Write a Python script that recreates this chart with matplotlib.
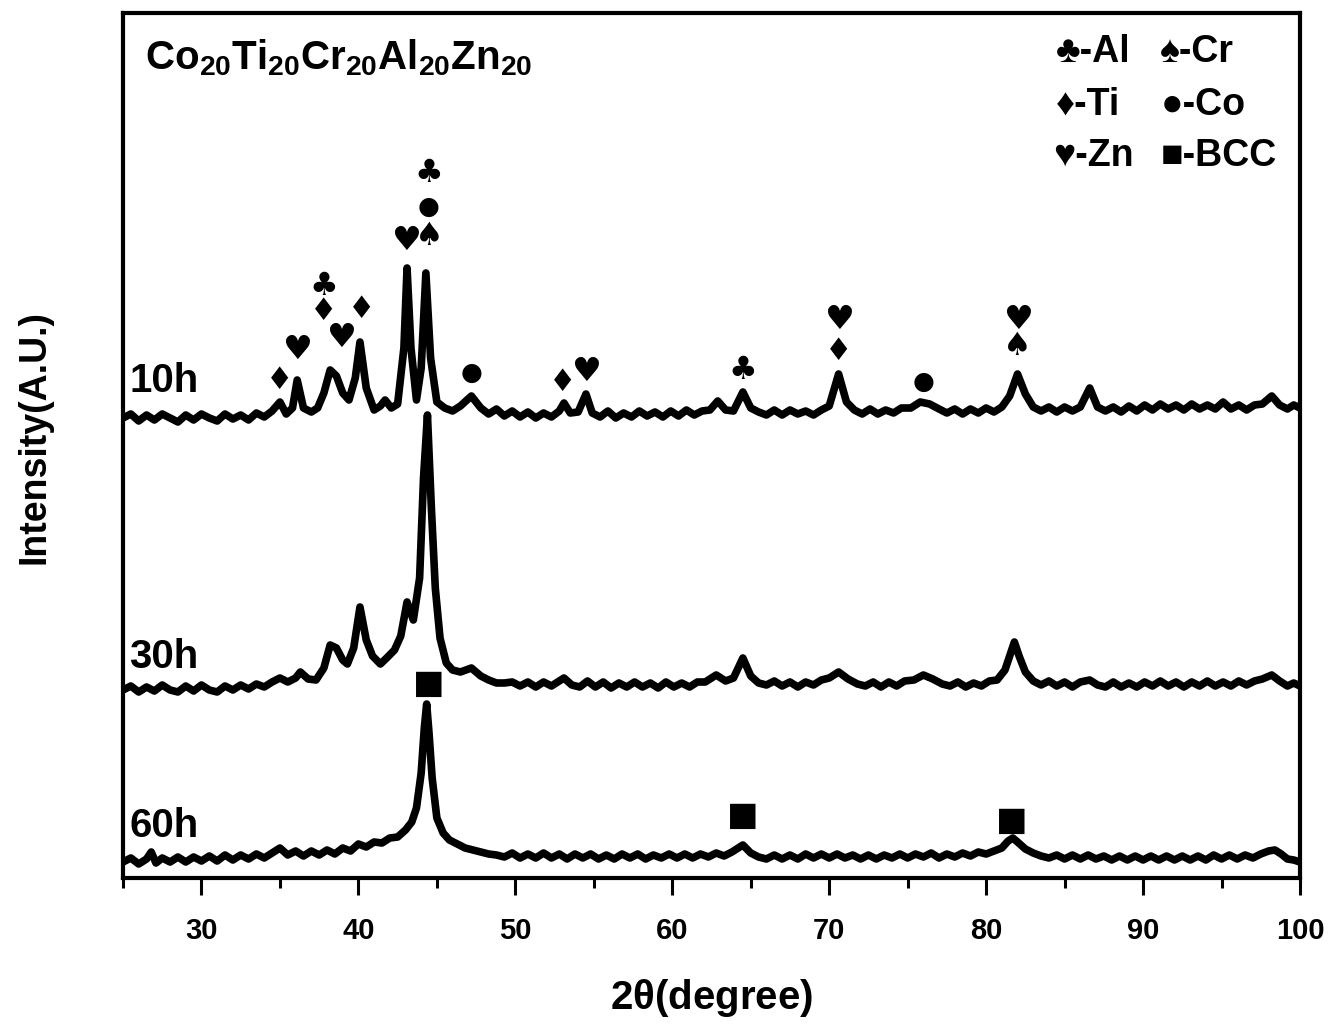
import matplotlib
matplotlib.use('Agg')
import matplotlib.pyplot as plt
from matplotlib.ticker import MultipleLocator

plt.rcParams['font.family'] = ['Liberation Sans', 'DejaVu Sans']
plt.rcParams['font.weight'] = 'bold'
plt.rcParams['mathtext.fontset'] = 'custom'
plt.rcParams['mathtext.bf'] = 'Liberation Sans:bold'
plt.rcParams['mathtext.rm'] = 'Liberation Sans:bold'
plt.rcParams['mathtext.default'] = 'bf'

# 10h pattern
tt_10h = [25, 25.5, 26, 26.5, 27, 27.5, 28, 28.5, 29, 29.5, 30, 30.5, 31, 31.5, 32, 32.5, 33, 33.5, 34, 34.5,
          35.0, 35.4, 35.8, 36.1, 36.5, 37.0, 37.4, 37.8, 38.2, 38.6, 39.0, 39.4, 39.8, 40.1, 40.5, 41.0,
          41.4, 41.7, 42.1, 42.5, 42.9, 43.1, 43.35, 43.7, 44.0, 44.3, 44.6, 45.0, 45.5, 46.0, 46.5, 47.2,
          47.8, 48.3, 48.8, 49.3, 49.8, 50.3, 50.8, 51.3, 51.8, 52.3, 52.8, 53.1, 53.5, 54.0, 54.5, 54.9,
          55.4, 55.9, 56.4, 56.9, 57.4, 57.9, 58.4, 58.9, 59.4, 59.9, 60.4, 60.9, 61.4, 61.9, 62.4, 62.9,
          63.4, 63.9, 64.5, 65.0, 65.5, 66.0, 66.5, 67.0, 67.5, 68.0, 68.5, 69.0, 69.5, 70.0, 70.6, 71.1,
          71.6, 72.1, 72.6, 73.1, 73.6, 74.1, 74.6, 75.2, 75.8, 76.4, 77.0, 77.5, 78.0, 78.5, 79.0, 79.5,
          80.0, 80.5, 81.0, 81.5, 82.0, 82.5, 83.0, 83.5, 84.0, 84.5, 85.0, 85.5, 86.0, 86.6, 87.1, 87.6,
          88.1, 88.6, 89.1, 89.6, 90.1, 90.6, 91.1, 91.6, 92.1, 92.6, 93.1, 93.6, 94.1, 94.6, 95.1, 95.6,
          96.1, 96.6, 97.1, 97.6, 98.2, 98.7, 99.2, 99.6, 100]
i_10h = [20, 24, 17, 23, 18, 24, 20, 16, 23, 18, 24, 20, 17, 24, 19, 23, 18, 25, 21, 27,
         36, 24, 30, 58, 30, 26, 30, 45, 68, 62, 45, 38, 60, 96, 50, 28,
         32, 38, 30, 34, 90, 170, 90, 38, 70, 165, 80, 36, 30, 27, 32, 42,
         30, 24, 29, 22, 27, 21, 26, 20, 25, 21, 27, 35, 25, 26, 44, 25,
         21, 27, 20, 25, 21, 27, 22, 26, 21, 27, 22, 28, 23, 27, 28, 37,
         28, 27, 46, 30, 26, 23, 28, 23, 28, 24, 27, 23, 28, 32, 64, 36,
         28, 24, 29, 24, 28, 25, 30, 30, 36, 34, 29, 25, 29, 24, 29, 25,
         30, 26, 31, 42, 64, 44, 31, 27, 31, 26, 31, 27, 31, 50, 31, 27,
         31, 26, 32, 27, 33, 28, 34, 29, 33, 28, 34, 29, 33, 29, 36, 29,
         33, 28, 33, 34, 42, 33, 29, 33, 30]

# 30h pattern
tt_30h = [25, 25.5, 26, 26.5, 27, 27.5, 28, 28.5, 29, 29.5, 30, 30.5, 31, 31.5, 32, 32.5, 33, 33.5, 34, 34.5,
          35.0, 35.5, 36.0, 36.3, 36.8, 37.3, 37.8, 38.2, 38.6, 39.0, 39.3, 39.7, 40.1, 40.5, 40.9, 41.4,
          41.8, 42.3, 42.7, 43.1, 43.5, 43.9, 44.15, 44.4, 44.65, 44.9, 45.2, 45.6, 46.0, 46.5, 47.2, 47.8,
          48.3, 48.8, 49.3, 49.8, 50.3, 50.8, 51.3, 51.8, 52.3, 53.1, 53.6, 54.1, 54.6, 55.1, 55.6, 56.1,
          56.6, 57.1, 57.6, 58.1, 58.6, 59.1, 59.6, 60.1, 60.6, 61.1, 61.6, 62.1, 62.8, 63.4, 63.9, 64.5,
          65.0, 65.5, 66.0, 66.5, 67.0, 67.5, 68.0, 68.5, 69.0, 69.5, 70.0, 70.6, 71.2, 71.8, 72.3, 72.8,
          73.3, 73.8, 74.3, 74.8, 75.4, 76.0, 76.6, 77.2, 77.7, 78.2, 78.7, 79.2, 79.7, 80.2, 80.7, 81.2,
          81.5, 81.8, 82.1, 82.5, 83.0, 83.5, 84.0, 84.5, 85.0, 85.5, 86.0, 86.6, 87.1, 87.6, 88.1, 88.6,
          89.1, 89.6, 90.1, 90.6, 91.1, 91.6, 92.1, 92.6, 93.1, 93.6, 94.1, 94.6, 95.1, 95.6, 96.1, 96.6,
          97.1, 97.6, 98.2, 98.7, 99.2, 99.6, 100]
i_30h = [18, 22, 16, 21, 17, 23, 18, 16, 22, 17, 23, 18, 16, 22, 18, 23, 19, 24, 21, 26,
         30, 26, 30, 36, 29, 28, 40, 63, 60, 48, 44, 60, 101, 68, 52, 44,
         50, 58, 72, 106, 88, 130, 230, 293, 200, 120, 70, 45, 38, 36, 40, 32,
         28, 25, 25, 26, 22, 26, 21, 26, 22, 30, 23, 21, 27, 21, 26, 20,
         25, 21, 26, 21, 25, 20, 26, 21, 25, 21, 26, 26, 33, 27, 30, 50,
         32, 25, 23, 27, 22, 26, 21, 26, 23, 28, 30, 36, 29, 24, 22, 26,
         21, 26, 22, 27, 28, 33, 29, 24, 22, 26, 21, 25, 22, 27, 28, 38,
         52, 66, 52, 36, 27, 23, 27, 22, 26, 21, 26, 28, 23, 21, 26, 21,
         25, 21, 26, 22, 27, 22, 26, 21, 26, 22, 27, 22, 26, 22, 27, 23,
         27, 29, 33, 27, 22, 25, 22]

# 60h pattern
tt_60h = [25, 25.5, 26, 26.5, 26.8, 27.1, 27.5, 28, 28.5, 29, 29.5, 30, 30.5, 31, 31.5, 32, 32.5, 33, 33.5,
          34, 34.5, 35.0, 35.5, 36.0, 36.5, 37.0, 37.5, 38.0, 38.5, 39.0, 39.5, 40.0, 40.5, 41.0, 41.5,
          42.0, 42.5, 43.0, 43.4, 43.7, 44.0, 44.2, 44.35, 44.5, 44.7, 45.0, 45.4, 45.8, 46.3, 46.8, 47.3,
          47.8, 48.3, 48.8, 49.3, 49.8, 50.3, 50.8, 51.3, 51.8, 52.3, 52.8, 53.3, 53.8, 54.3, 54.8, 55.3,
          55.8, 56.3, 56.8, 57.3, 57.8, 58.3, 58.8, 59.3, 59.8, 60.3, 60.8, 61.3, 61.8, 62.3, 62.8, 63.3,
          63.8, 64.5, 65.0, 65.5, 66.0, 66.5, 67.0, 67.5, 68.0, 68.5, 69.0, 69.5, 70.0, 70.5, 71.0, 71.5,
          72.0, 72.5, 73.0, 73.5, 74.0, 74.5, 75.0, 75.5, 76.0, 76.5, 77.0, 77.5, 78.0, 78.5, 79.0, 79.5,
          80.0, 80.5, 81.0, 81.4, 81.7, 82.0, 82.5, 83.0, 83.5, 84.0, 84.5, 85.0, 85.5, 86.0, 86.5, 87.0,
          87.5, 88.0, 88.5, 89.0, 89.5, 90.0, 90.5, 91.0, 91.5, 92.0, 92.5, 93.0, 93.5, 94.0, 94.5, 95.0,
          95.5, 96.0, 96.5, 97.0, 97.5, 98.0, 98.4, 98.8, 99.2, 99.6, 100]
i_60h = [16, 20, 14, 19, 26, 15, 20, 16, 21, 16, 21, 17, 22, 17, 23, 18, 23, 19, 24,
         20, 25, 30, 23, 27, 22, 27, 23, 28, 24, 30, 27, 34, 31, 36, 35,
         40, 41, 48, 56, 70, 105, 150, 174, 145, 100, 60, 45, 38, 34, 30, 28,
         26, 24, 23, 21, 25, 20, 24, 20, 25, 20, 24, 19, 24, 20, 24, 19,
         23, 19, 24, 20, 24, 19, 23, 20, 24, 20, 24, 20, 24, 21, 25, 22,
         26, 33, 25, 21, 19, 23, 19, 23, 19, 24, 20, 24, 20, 24, 20, 23,
         19, 23, 19, 23, 20, 24, 20, 24, 21, 25, 20, 24, 21, 25, 22, 26,
         24, 27, 30, 37, 40, 36, 29, 25, 22, 20, 23, 19, 23, 19, 23, 19,
         22, 18, 22, 18, 22, 18, 22, 18, 22, 18, 22, 18, 22, 18, 23, 19,
         23, 19, 23, 20, 24, 27, 28, 24, 19, 18, 16]

labels = ['10h', '30h', '60h']
offsets = [440, 170, 0]

# phase markers: (phase, 2theta, height on the stacked plot)
phase_symbols = {'Al': '\u2663', 'Cr': '\u2660', 'Ti': '\u2666', 'Co': '\u25cf', 'Zn': '\u2665', 'BCC': '\u25a0'}
mark_phase = ['Ti', 'Zn', 'Al', 'Ti', 'Zn', 'Ti', 'Zn', 'Al', 'Co', 'Cr', 'Co', 'Ti', 'Zn', 'Al',
              'Zn', 'Ti', 'Co', 'Zn', 'Cr', 'BCC', 'BCC', 'BCC']
mark_tt = [35.0, 36.1, 37.8, 37.8, 38.9, 40.2, 43.0, 44.5, 44.5, 44.5, 47.2, 53.0, 54.5, 64.5,
           70.6, 70.6, 76.0, 82.0, 82.0, 44.5, 64.5, 81.6]
mark_h = [497, 528, 592, 566, 540, 568, 637, 705, 671, 641, 505, 495, 506, 508,
          558, 526, 496, 558, 531, 195, 63, 58]

fig = plt.figure(figsize=(13.43, 10.31), dpi=100)
ax = fig.add_axes([123/1343, 153/1031, 1177/1343, 865/1031])

for tt, inten, off in zip([tt_10h, tt_30h, tt_60h], [i_10h, i_30h, i_60h], offsets):
    ax.plot(tt, [v + off for v in inten], color='black', lw=5.5, solid_joinstyle='round')

sym_size = {'Al': 23, 'Cr': 23, 'Ti': 22, 'Co': 18, 'Zn': 24, 'BCC': 24}
for ph, t, h in zip(mark_phase, mark_tt, mark_h):
    ax.text(t, h, phase_symbols[ph], ha='center', va='center', fontsize=sym_size[ph],
            family='DejaVu Sans', color='black')

label_y = [497, 221, 52]
for lab, y in zip(labels, label_y):
    ax.text(25.4, y, lab, ha='left', va='center', fontsize=29, fontweight='bold')

ax.text(0.019, 0.948, r'$Co_{20}Ti_{20}Cr_{20}Al_{20}Zn_{20}$', transform=ax.transAxes,
        ha='left', va='center', fontsize=29)

# legend as text
leg_items = [('Al', 1056, 52), ('Cr', 1160, 52), ('Ti', 1056, 105), ('Co', 1161, 105),
             ('Zn', 1053, 156), ('BCC', 1161, 156)]
for ph, px, py in leg_items:
    fig.text(px/1343, 1 - py/1031, phase_symbols[ph] + '-' + ph, ha='left', va='center',
             fontsize=27, fontweight='bold', family=['Liberation Sans', 'DejaVu Sans'])

ax.set_xlim(25, 100)
ax.set_ylim(0, 865)
ax.set_xticks(range(30, 101, 10))
ax.xaxis.set_minor_locator(MultipleLocator(5))
ax.tick_params(axis='x', which='major', direction='out', length=12, width=2.2, labelsize=21, pad=16)
ax.tick_params(axis='x', which='minor', direction='out', length=7, width=2.2)
ax.set_yticks([])
for sp in ax.spines.values():
    sp.set_linewidth(3)
for lab in ax.get_xticklabels():
    lab.set_fontweight('bold')

ax.set_xlabel(r'2$\theta$(degree)', fontsize=29, fontweight='bold')
ax.xaxis.set_label_coords(0.5, -0.114)
ax.set_ylabel('Intensity(A.U.)', fontsize=27, fontweight='bold')
ax.yaxis.set_label_coords(-0.060, 0.51)

fig.savefig('out.png', dpi=100)
